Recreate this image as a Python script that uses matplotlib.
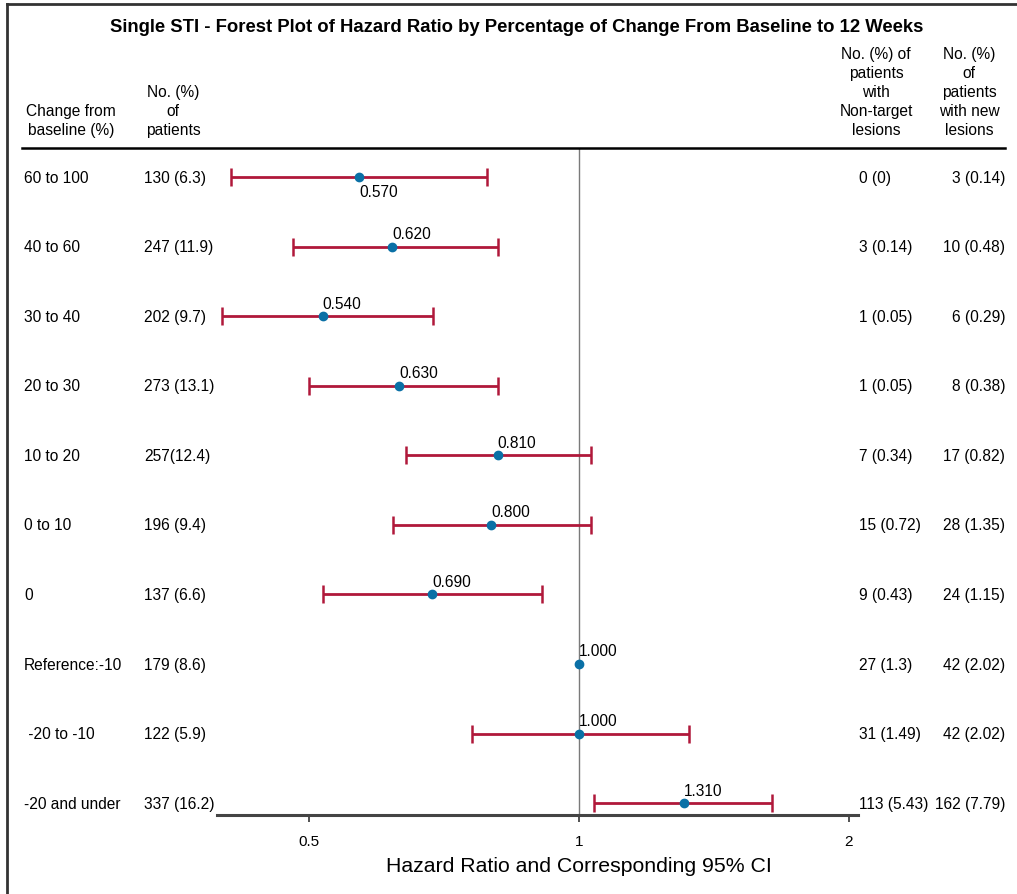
import matplotlib
matplotlib.use('Agg')
import matplotlib.pyplot as plt
import matplotlib.transforms as mtransforms
from matplotlib.lines import Line2D
import numpy as np

plt.rcParams['font.family'] = ['Liberation Sans', 'DejaVu Sans']

# %% data
groups = ['60 to 100', '40 to 60', '30 to 40', '20 to 30', '10 to 20', '0 to 10', '0',
          'Reference:-10', ' -20 to -10', '-20 and under']
n_patients = ['130 (6.3)', '247 (11.9)', '202 (9.7)', '273 (13.1)', '257(12.4)', '196 (9.4)',
              '137 (6.6)', '179 (8.6)', '122 (5.9)', '337 (16.2)']
n_nontarget = ['0 (0)', '3 (0.14)', '1 (0.05)', '1 (0.05)', '7 (0.34)', '15 (0.72)',
               '9 (0.43)', '27 (1.3)', '31 (1.49)', '113 (5.43)']
n_newlesions = ['3 (0.14)', '10 (0.48)', '6 (0.29)', '8 (0.38)', '17 (0.82)', '28 (1.35)',
                '24 (1.15)', '42 (2.02)', '42 (2.02)', '162 (7.79)']
hr = [0.569, 0.619, 0.518, 0.630, 0.812, 0.798, 0.686, 1.000, 1.000, 1.309]
hr_text = ['0.570', '0.620', '0.540', '0.630', '0.810', '0.800', '0.690', '1.000', '1.000', '1.310']
ci_lo = [0.409, 0.480, 0.400, 0.500, 0.641, 0.620, 0.519, np.nan, 0.760, 1.039]
ci_hi = [0.790, 0.812, 0.688, 0.813, 1.031, 1.031, 0.910, np.nan, 1.326, 1.641]

title = 'Single STI - Forest Plot of Hazard Ratio by Percentage of Change From Baseline to 12 Weeks'
xlab = 'Hazard Ratio and Corresponding 95% CI'
xticks = [0.5, 1, 2]
xtick_labels = ['0.5', '1', '2']

# %%
W, H = 1017, 895
fx = lambda px: px / W
fy = lambda py: 1 - py / H

fig = plt.figure(figsize=(W / 100, H / 100), dpi=100)
ax = fig.add_axes([fx(217), fy(816), fx(858) - fx(217), fy(149) - fy(816)])

red = '#B0183A'
blue = '#0A70A6'
fs = 11.2

y = np.arange(len(groups))
hr_a = np.array(hr)
lo = np.array(ci_lo)
hi = np.array(ci_hi)
ok = ~np.isnan(lo)

ax.axvline(1, color='#7a7a7a', lw=1.0, zorder=1)
ax.errorbar(hr_a[ok], y[ok], xerr=[hr_a[ok] - lo[ok], hi[ok] - hr_a[ok]], fmt='none',
            ecolor=red, elinewidth=2, capsize=6.5, capthick=1.8, zorder=2)
ax.plot(hr_a, y, 'o', color=blue, ms=6, zorder=3)

for i, (v, t) in enumerate(zip(hr, hr_text)):
    if i == 0:
        ax.annotate(t, (v, i), xytext=(0, -5), textcoords='offset points',
                    ha='left', va='top', fontsize=fs)
    else:
        ax.annotate(t, (v, i), xytext=(0, 4), textcoords='offset points',
                    ha='left', va='bottom', fontsize=fs)

ax.set_xscale('log', base=2)
ax.set_xlim(0.395, 2.047)
ax.set_ylim(9.17, -0.417)
ax.set_xticks(xticks)
ax.set_xticklabels(xtick_labels, fontsize=fs - 0.2)
ax.minorticks_off()
ax.set_yticks([])
ax.tick_params(axis='x', direction='out', length=5, width=1.2, color='#333333', pad=9)
for s in ['top', 'right', 'left']:
    ax.spines[s].set_visible(False)
ax.spines['bottom'].set_color('#444444')
ax.spines['bottom'].set_linewidth(2.2)

# table columns
tr = mtransforms.blended_transform_factory(fig.transFigure, ax.transData)
for i in range(len(groups)):
    ax.text(fx(24), i, groups[i], transform=tr, ha='left', va='center', fontsize=fs)
    ax.text(fx(144), i, n_patients[i], transform=tr, ha='left', va='center', fontsize=fs)
    ax.text(fx(859), i, n_nontarget[i], transform=tr, ha='left', va='center', fontsize=fs)
    ax.text(fx(1005), i, n_newlesions[i], transform=tr, ha='right', va='center', fontsize=fs)

# headers
hdr = dict(ha='center', va='bottom', fontsize=fs, linespacing=1.34, multialignment='center')
fig.text(fx(71), fy(138), 'Change from\nbaseline (%)', **hdr)
fig.text(fx(173), fy(138), 'No. (%)\nof\npatients', **hdr)
fig.text(fx(876), fy(138), 'No. (%) of\npatients\nwith\nNon-target\nlesions', **hdr)
fig.text(fx(969), fy(138), 'No. (%)\nof\npatients\nwith new\nlesions', **hdr)

fig.text(fx(517), fy(27), title, ha='center', va='center', fontsize=13.3, fontweight='bold')
fig.text(fx(579), fy(867), xlab, ha='center', va='center', fontsize=15.3,
         family=['Liberation Sans Narrow', 'Liberation Sans', 'DejaVu Sans'])

# rules and frame
fig.add_artist(Line2D([fx(22), fx(1005)], [fy(149), fy(149)], color='black', lw=1.8))
fig.add_artist(Line2D([fx(7), fx(1017)], [fy(5), fy(5)], color='#333333', lw=2))
fig.add_artist(Line2D([fx(7), fx(7)], [fy(5), fy(895)], color='#333333', lw=2))

fig.savefig('out.png', dpi=100)
